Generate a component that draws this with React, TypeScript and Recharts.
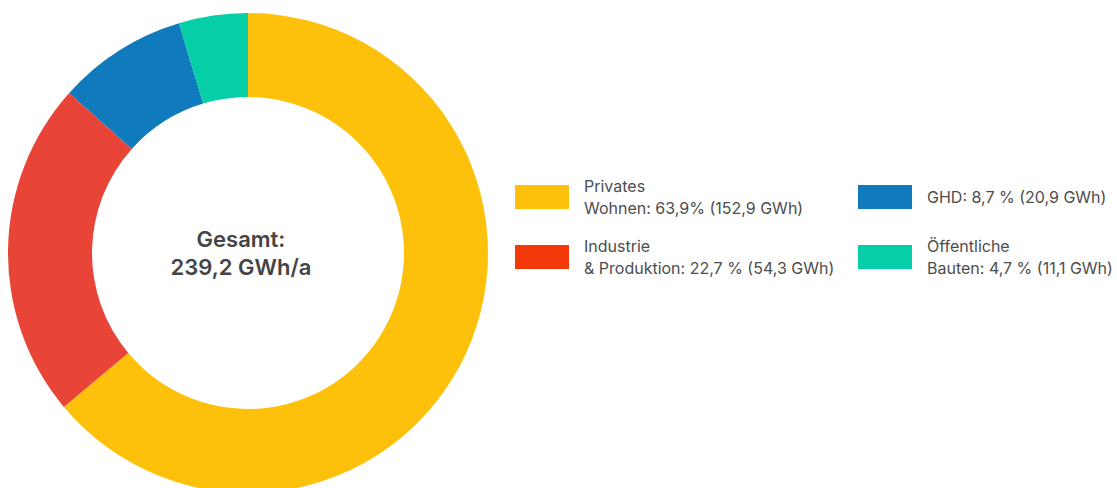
import { PieChart, Pie, Cell, Legend } from 'recharts';

const categories = ['Privates Wohnen', 'Industrie & Produktion', 'GHD', 'Öffentliche Bauten'];
const valuesGWh = [152.9, 54.3, 20.9, 11.1];
const pieColors = ['#FEC10B', '#E94438', '#0F7BBC', '#06CEA6'];
const swatchColors = ['#FEC10B', '#F3380A', '#0F7BBC', '#06CEA6'];
const legendLines = [
  ['Privates', 'Wohnen: 63,9% (152,9 GWh)'],
  ['Industrie', '& Produktion: 22,7 % (54,3 GWh)'],
  ['GHD: 8,7 % (20,9 GWh)'],
  ['Öffentliche', 'Bauten: 4,7 % (11,1 GWh)'],
];
const totalLabel = ['Gesamt:', '239,2 GWh/a'];

const data = categories.map((name, i) => ({ name, value: valuesGWh[i] }));

const FONT = 'Inter, "Noto Sans", sans-serif';

function LegendBox() {
  // order in the picture: col 1 = Privates, Industrie; col 2 = GHD, Öffentliche
  const order = [0, 2, 1, 3];
  return (
    <div
      style={{
        display: 'grid',
        gridTemplateColumns: '343px 258px',
        gridAutoRows: '60px',
        fontFamily: FONT,
        fontSize: 16,
        lineHeight: '22px',
        color: '#4d4d4d',
      }}
    >
      {order.map((i) => (
        <div key={categories[i]} style={{ display: 'flex', alignItems: 'center' }}>
          <div
            style={{
              width: 54,
              height: 24,
              background: swatchColors[i],
              marginRight: 15,
              flexShrink: 0,
            }}
          />
          <div style={{ whiteSpace: 'nowrap' }}>
            {legendLines[i].map((l) => (
              <div key={l}>{l}</div>
            ))}
          </div>
        </div>
      ))}
    </div>
  );
}

export default function App() {
  return (
    <div style={{ position: 'absolute', left: 0, top: 0, width: 1117, height: 488, overflow: 'hidden' }}>
      <PieChart width={1117} height={488} margin={{ top: 0, right: 0, bottom: 0, left: 0 }}>
        <Pie
          data={data}
          dataKey="value"
          nameKey="name"
          cx={248}
          cy={253}
          innerRadius={156}
          outerRadius={240}
          startAngle={90}
          endAngle={-270}
          stroke="none"
          isAnimationActive={false}
        >
          {data.map((d, i) => (
            <Cell key={d.name} fill={pieColors[i]} />
          ))}
        </Pie>
        <text
          x={241}
          y={247}
          textAnchor="middle"
          fontFamily={FONT}
          fontSize={22}
          fontWeight={600}
          fill="#444"
        >
          {totalLabel[0]}
        </text>
        <text
          x={241}
          y={275}
          textAnchor="middle"
          fontFamily={FONT}
          fontSize={22}
          fontWeight={600}
          fill="#444"
        >
          {totalLabel[1]}
        </text>
        <Legend
          content={() => <LegendBox />}
          wrapperStyle={{ position: 'absolute', left: 515, top: 167, width: 601, height: 120 }}
        />
      </PieChart>
    </div>
  );
}
